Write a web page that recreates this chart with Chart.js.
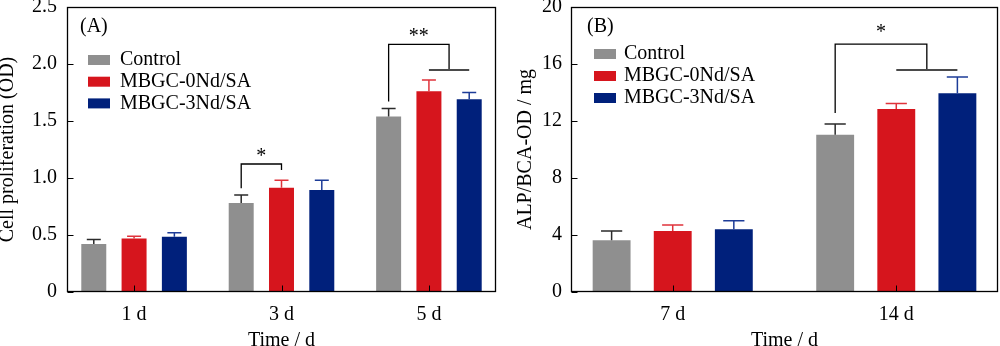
<!DOCTYPE html>
<html>
<head>
<meta charset="utf-8">
<script src="https://cdn.jsdelivr.net/npm/chart.js@4.4.1/dist/chart.umd.min.js"></script>
<style>
  html, body { margin: 0; padding: 0; background: #fff; }
  #wrap { position: relative; width: 1000px; height: 346px; }
  .panel { position: absolute; top: 0; width: 500px; height: 346px; }
</style>
</head>
<body>
<div id="wrap">
  <div class="panel" style="left:0"><canvas id="chartA" width="500" height="346"></canvas></div>
  <div class="panel" style="left:500px"><canvas id="chartB" width="500" height="346"></canvas></div>
</div>
<script>
// Shared series info
const seriesNames = ['Control', 'MBGC-0Nd/SA', 'MBGC-3Nd/SA'];
const seriesColors = ['#8f8f8f', '#d6151d', '#00207b'];
const errColors = ['#2b2b2b', '#e0333b', '#1d3c98'];

// (A) cell proliferation
const prolifDays = ['1 d', '3 d', '5 d'];
const prolifControl = [0.42, 0.78, 1.54];
const prolifNd0 = [0.47, 0.915, 1.76];
const prolifNd3 = [0.485, 0.895, 1.69];
const prolifControlErr = [0.04, 0.07, 0.07];
const prolifNd0Err = [0.02, 0.065, 0.10];
const prolifNd3Err = [0.035, 0.085, 0.06];
// significance brackets: group, leg bottom, bracket top, right end level, star level
const prolifBrackets = [
  { group: 1, to: [1], low: 0.91, top: 1.123, end: 1.07, label: '*', labelY: 1.232 },
  { group: 2, to: [1, 2], low: 1.67, top: 2.173, end: 1.947, label: '**', labelY: 2.283 }
];

// (B) ALP activity
const alpDays = ['7 d', '14 d'];
const alpControl = [3.63, 11.04];
const alpNd0 = [4.28, 12.84];
const alpNd3 = [4.40, 13.94];
const alpControlErr = [0.65, 0.75];
const alpNd0Err = [0.42, 0.38];
const alpNd3Err = [0.60, 1.15];
const alpBrackets = [
  { group: 1, to: [1, 2], low: 12.56, top: 17.40, end: 15.58, label: '*', labelY: 18.5 }
];

const FONT = "'Liberation Serif', 'Times New Roman', serif";

function panelPlugin(p) {
  return {
    id: 'panelExtras',
    afterDatasetsDraw(chart) {
      const ctx = chart.ctx;
      const area = chart.chartArea;
      const ys = chart.scales.y;
      const xs = chart.scales.x;
      ctx.save();

      // error bars (upper half only)
      p.series.forEach((vals, i) => {
        const meta = chart.getDatasetMeta(i);
        meta.data.forEach((bar, j) => {
          const yTop = ys.getPixelForValue(vals[j] + p.errs[i][j]);
          const cap = bar.width * 0.56;
          ctx.strokeStyle = errColors[i];
          ctx.lineWidth = 1.5;
          ctx.beginPath();
          ctx.moveTo(bar.x, bar.y);
          ctx.lineTo(bar.x, yTop);
          ctx.moveTo(bar.x - cap / 2, yTop);
          ctx.lineTo(bar.x + cap / 2, yTop);
          ctx.stroke();
        });
      });

      // frame box
      const L = Math.round(area.left) + 0.5, R = Math.round(area.right) - 0.5;
      const T = Math.round(area.top) + 0.5, B = Math.round(area.bottom) - 0.5;
      ctx.strokeStyle = '#000';
      ctx.lineWidth = 1.3;
      ctx.strokeRect(L, T, R - L, B - T);

      // inward ticks
      ctx.lineWidth = 1;
      ctx.beginPath();
      ys.ticks.forEach(t => {
        const y = Math.round(ys.getPixelForValue(t.value)) + 0.5;
        ctx.moveTo(L, y);
        ctx.lineTo(L + 6, y);
      });
      xs.ticks.forEach(t => {
        const x = Math.round(xs.getPixelForValue(t.value)) + 0.5;
        ctx.moveTo(x, B);
        ctx.lineTo(x, B - 6);
      });
      ctx.stroke();

      // significance brackets
      p.brackets.forEach(b => {
        const left = chart.getDatasetMeta(0).data[b.group];
        const targets = b.to.map(k => chart.getDatasetMeta(k).data[b.group]);
        const xL = left.x;
        const xR = targets.reduce((s, e) => s + e.x, 0) / targets.length;
        const yLow = ys.getPixelForValue(b.low);
        const yTop = ys.getPixelForValue(b.top);
        const yEnd = ys.getPixelForValue(b.end);
        ctx.strokeStyle = '#000';
        ctx.lineWidth = 1.3;
        ctx.beginPath();
        ctx.moveTo(xL, yLow);
        ctx.lineTo(xL, yTop);
        ctx.lineTo(xR, yTop);
        ctx.lineTo(xR, yEnd);
        ctx.stroke();
        if (targets.length > 1) {
          ctx.strokeStyle = '#4a4a4a';
          ctx.lineWidth = 2;
          ctx.beginPath();
          ctx.moveTo(targets[0].x, yEnd);
          ctx.lineTo(targets[targets.length - 1].x, yEnd);
          ctx.stroke();
        }
        ctx.font = '20px ' + FONT;
        ctx.fillStyle = '#000';
        ctx.textAlign = 'center';
        ctx.textBaseline = 'alphabetic';
        const m = ctx.measureText(b.label);
        const cy = ys.getPixelForValue(b.labelY);
        ctx.fillText(b.label, (xL + xR) / 2, cy + (m.actualBoundingBoxAscent - m.actualBoundingBoxDescent) / 2);
      });

      // panel label and legend
      ctx.font = '20px ' + FONT;
      ctx.fillStyle = '#000';
      ctx.textAlign = 'left';
      ctx.textBaseline = 'middle';
      ctx.fillText(p.label, area.left + p.labelDx, 27);
      seriesNames.forEach((name, i) => {
        const cy = p.legendTop + i * p.legendGap;
        ctx.fillStyle = seriesColors[i];
        ctx.fillRect(area.left + p.swatchDx, cy - 5, 22, 10);
        ctx.fillStyle = '#000';
        ctx.fillText(name, area.left + 53, cy);
      });
      ctx.restore();
    }
  };
}

// drop the extra room Chart.js keeps for overhanging end labels
function noOverhang(s) {
  s.paddingTop = 0;
  s.paddingBottom = 0;
  s.paddingLeft = 0;
  s.paddingRight = 0;
}

function makePanel(canvasId, p) {
  const n = p.days.length;
  return new Chart(document.getElementById(canvasId), {
    type: 'bar',
    data: {
      datasets: p.series.map((vals, i) => ({
        label: seriesNames[i],
        data: vals.map((v, j) => ({ x: j, y: v })),
        backgroundColor: seriesColors[i],
        borderWidth: 0,
        categoryPercentage: 0.82,
        barPercentage: 0.62
      }))
    },
    options: {
      responsive: false,
      animation: false,
      layout: { padding: { top: 7, right: p.padRight, left: 0, bottom: 0 } },
      plugins: { legend: { display: false }, tooltip: { enabled: false } },
      scales: {
        x: {
          type: 'linear',
          offset: false,
          min: -0.455,
          max: n - 1 + 0.455,
          grid: { display: false, drawTicks: false, offset: false },
          border: { display: false },
          afterBuildTicks: s => { s.ticks = p.days.map((d, i) => ({ value: i })); },
          afterFit: s => { s.height = 54; noOverhang(s); },
          ticks: {
            padding: 11,
            color: '#000',
            font: { family: FONT, size: 20 },
            callback: v => p.days[Math.round(v)]
          },
          title: {
            display: true,
            text: 'Time / d',
            color: '#000',
            padding: 0,
            font: { family: FONT, size: 20, lineHeight: 0.55 }
          }
        },
        y: {
          min: 0,
          max: p.max,
          grid: { display: false, drawTicks: false },
          border: { display: false },
          afterFit: s => { s.width = p.yWidth; noOverhang(s); },
          ticks: {
            stepSize: p.step,
            padding: p.tickPad,
            color: '#000',
            font: { family: FONT, size: 20 },
            callback: p.tickFmt
          },
          title: {
            display: true,
            text: p.yTitle,
            color: '#000',
            padding: { top: p.titlePad, bottom: 0 },
            font: { family: FONT, size: 20, lineHeight: 0.8 }
          }
        }
      }
    },
    plugins: [panelPlugin(p)]
  });
}

makePanel('chartA', {
  days: prolifDays,
  series: [prolifControl, prolifNd0, prolifNd3],
  errs: [prolifControlErr, prolifNd0Err, prolifNd3Err],
  brackets: prolifBrackets,
  max: 2.5, step: 0.5,
  tickFmt: v => (v === 0 ? '0' : v.toFixed(1)),
  yTitle: 'Cell proliferation (OD)',
  yWidth: 67, padRight: 4, tickPad: 10, titlePad: 0,
  label: '(A)', labelDx: 13,
  swatchDx: 21, legendTop: 60, legendGap: 21.7
});

makePanel('chartB', {
  days: alpDays,
  series: [alpControl, alpNd0, alpNd3],
  errs: [alpControlErr, alpNd0Err, alpNd3Err],
  brackets: alpBrackets,
  max: 20, step: 4,
  tickFmt: v => String(v),
  yTitle: 'ALP/BCA-OD / mg',
  yWidth: 71, padRight: 2, tickPad: 9, titlePad: 18,
  label: '(B)', labelDx: 16,
  swatchDx: 23, legendTop: 54, legendGap: 22
});
</script>
</body>
</html>
